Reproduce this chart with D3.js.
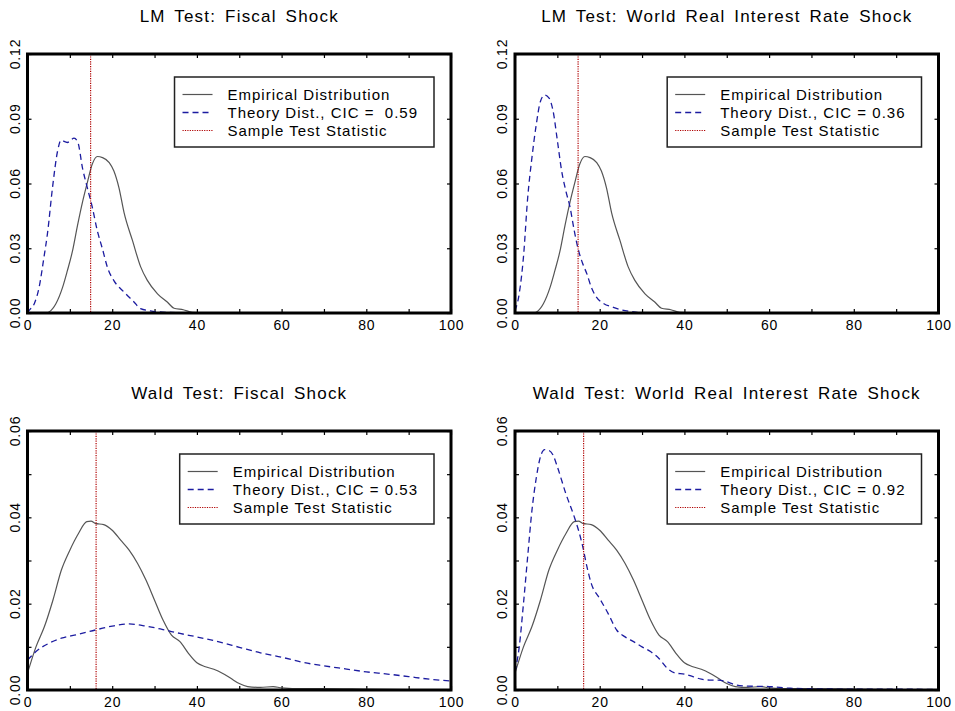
<!DOCTYPE html>
<html lang="en">
<head>
    <meta charset="UTF-8">
    <title>LM and Wald Test Distributions</title>
    <script src="https://d3js.org/d3.v7.min.js"></script>
    <style>
        body { margin: 0; background: #fff; }
        text { font-family: "Liberation Sans", Arial, sans-serif; fill: #000; }
    </style>
</head>
<body>
    <div id="chart-container"></div>

    <script>
        // panel titles
        const titles = [
            "LM Test: Fiscal Shock",
            "LM Test: World Real Interest Rate Shock",
            "Wald Test: Fiscal Shock",
            "Wald Test: World Real Interest Rate Shock"
        ];
        const cicLabels = ["Theory Dist., CIC =  0.59", "Theory Dist., CIC = 0.36",
                           "Theory Dist., CIC = 0.53", "Theory Dist., CIC = 0.92"];

        // empirical distribution of the LM statistic (same in both LM panels)
        const lmEmpX = [4.5, 5.1, 6.7, 8.3, 9.4, 10.6, 11.8, 13, 14.2, 15.3, 16.5, 17.7, 19.3, 20.4, 21.6, 22.8, 24.8, 26.7, 28.3, 30.7, 33, 34.6, 36.8, 38.9, 45];
        const lmEmpY = [0, 0.0005, 0.0043, 0.012, 0.0195, 0.0285, 0.0405, 0.0515, 0.061, 0.069, 0.0725, 0.072, 0.0697, 0.0658, 0.058, 0.0465, 0.0335, 0.0215, 0.0151, 0.0089, 0.0051, 0.0022, 0.0015, 0.0003, 0];

        // theory distribution, LM fiscal
        const lmFiscX = [0, 0.4, 1.6, 2.75, 3.9, 4.7, 5.9, 7.1, 7.9, 9.4, 11, 11.9, 13, 14, 15.3, 16.5, 17.7, 18.9, 20.4, 22.8, 25.2, 26.7, 29, 33, 40];
        const lmFiscY = [0, 0.0012, 0.0043, 0.012, 0.026, 0.0366, 0.058, 0.075, 0.080, 0.079, 0.081, 0.079, 0.067, 0.059, 0.049, 0.038, 0.0297, 0.021, 0.015, 0.0097, 0.005, 0.002, 0.001, 0.0003, 0];

        // theory distribution, LM world interest rate
        const lmWorldX = [0, 1, 2, 3, 4, 5, 6, 7, 8, 9, 10, 11, 12, 13, 14, 15, 16, 17, 18, 19, 21, 23, 25, 28, 30];
        const lmWorldY = [0.001, 0.009, 0.026, 0.0535, 0.072, 0.087, 0.098, 0.101, 0.0997, 0.0935, 0.080, 0.066, 0.0566, 0.049, 0.038, 0.029, 0.0228, 0.018, 0.012, 0.008, 0.0043, 0.0028, 0.0015, 0.0005, 0];

        // empirical distribution of the Wald statistic (same in both Wald panels)
        const waldEmpX = [0, 2, 4, 6, 8, 10, 12, 14, 15, 16, 18, 20, 22, 24, 26, 28, 30, 32, 34, 36, 38, 40, 42, 44, 46, 48, 50, 52, 55, 58, 60, 65, 70, 80, 100];
        const waldEmpY = [0.0039, 0.010, 0.0147, 0.0208, 0.0278, 0.0324, 0.0362, 0.039, 0.0391, 0.0386, 0.0383, 0.037, 0.0347, 0.0324, 0.0293, 0.0254, 0.0208, 0.0162, 0.0127, 0.0112, 0.0085, 0.0063, 0.0054, 0.0048, 0.0039, 0.0027, 0.0015, 0.0008, 0.0006, 0.0008, 0.0005, 0.0003, 0.0003, 0.0002, 0];

        // theory distribution, Wald fiscal
        const waldFiscX = [0, 2, 5, 8, 12, 16, 20, 24, 28, 32, 36, 40, 45, 50, 55, 60, 65, 70, 75, 80, 85, 90, 95, 100];
        const waldFiscY = [0.0069, 0.0089, 0.0108, 0.012, 0.0129, 0.0139, 0.0148, 0.0153, 0.0148, 0.014, 0.0131, 0.0123, 0.0112, 0.0099, 0.0086, 0.0076, 0.0064, 0.0056, 0.0049, 0.0042, 0.0037, 0.0031, 0.0025, 0.0021];

        // theory distribution, Wald world interest rate
        const waldWorldX = [0, 1, 2, 3, 4, 5, 6, 7, 8, 9, 10, 12, 14, 15, 16, 17, 18, 20, 22, 24, 26, 28, 30, 32, 34, 36, 38, 40, 42, 44, 46, 48, 50, 52, 55, 60, 65, 70, 80, 90, 100];
        const waldWorldY = [0.0042, 0.010, 0.020, 0.031, 0.0416, 0.049, 0.054, 0.0557, 0.0555, 0.0544, 0.0517, 0.0455, 0.0401, 0.037, 0.0332, 0.0285, 0.0247, 0.0212, 0.0177, 0.0139, 0.0123, 0.0112, 0.010, 0.0089, 0.0073, 0.005, 0.0039, 0.0037, 0.0031, 0.0025, 0.0023, 0.0023, 0.0019, 0.0012, 0.0009, 0.0008, 0.0004, 0.0003, 0.0002, 0.0002, 0.0001];

        // sample test statistics
        const lmStat = 14.9;
        const waldStat = 16.2;

        // axis ticks
        const xTicks = [0, 10, 20, 30, 40, 50, 60, 70, 80, 90, 100];
        const xLabels = [0, 20, 40, 60, 80, 100];
        const lmYTicks = [0, 0.03, 0.06, 0.09, 0.12];
        const lmYLabels = [0, 0.03, 0.06, 0.09, 0.12];
        const waldYTicks = [0, 0.01, 0.02, 0.03, 0.04, 0.05, 0.06];
        const waldYLabels = [0, 0.02, 0.04, 0.06];

        const zip = (xs, ys) => xs.map((x, i) => ({ x: x, y: ys[i] }));

        const panels = [
            { title: titles[0], cic: cicLabels[0], emp: zip(lmEmpX, lmEmpY), theory: zip(lmFiscX, lmFiscY), stat: lmStat, yMax: 0.12, yTicks: lmYTicks, yLabels: lmYLabels, left: 27.5, top: 54 },
            { title: titles[1], cic: cicLabels[1], emp: zip(lmEmpX, lmEmpY), theory: zip(lmWorldX, lmWorldY), stat: lmStat, yMax: 0.12, yTicks: lmYTicks, yLabels: lmYLabels, left: 515, top: 54 },
            { title: titles[2], cic: cicLabels[2], emp: zip(waldEmpX, waldEmpY), theory: zip(waldFiscX, waldFiscY), stat: waldStat, yMax: 0.06, yTicks: waldYTicks, yLabels: waldYLabels, left: 27.5, top: 431 },
            { title: titles[3], cic: cicLabels[3], emp: zip(waldEmpX, waldEmpY), theory: zip(waldWorldX, waldWorldY), stat: waldStat, yMax: 0.06, yTicks: waldYTicks, yLabels: waldYLabels, left: 515, top: 431 }
        ];

        const width = 423.5;
        const height = 259;

        const svg = d3.select("#chart-container")
            .append("svg")
            .attr("width", 955)
            .attr("height", 711);

        panels.forEach(function(p) {
            const g = svg.append("g")
                .attr("transform", "translate(" + p.left + "," + p.top + ")");

            const x = d3.scaleLinear().domain([0, 100]).range([0, width]);
            const y = d3.scaleLinear().domain([0, p.yMax]).range([height, 0]);

            const line = d3.line()
                .x(function(d) { return x(d.x); })
                .y(function(d) { return y(d.y); })
                .curve(d3.curveMonotoneX);

            // title
            g.append("text")
                .attr("x", width / 2)
                .attr("y", -38)
                .attr("dy", "0.35em")
                .attr("text-anchor", "middle")
                .style("font-size", "17px")
                .style("letter-spacing", "1.2px")
                .style("word-spacing", "3px")
                .text(p.title);

            // inward ticks on all four sides
            const fmtX = function(d) { return xLabels.includes(d) ? d : ""; };
            g.append("g")
                .attr("class", "x-axis")
                .attr("transform", "translate(0," + height + ")")
                .call(d3.axisBottom(x).tickValues(xTicks).tickSize(-4).tickPadding(7).tickFormat(fmtX));
            g.append("g")
                .call(d3.axisTop(x).tickValues(xTicks).tickSize(-4).tickFormat(""));
            g.append("g")
                .call(d3.axisLeft(y).tickValues(p.yTicks).tickSize(-4).tickFormat(""));
            g.append("g")
                .attr("transform", "translate(" + width + ",0)")
                .call(d3.axisRight(y).tickValues(p.yTicks).tickSize(-4).tickFormat(""));

            g.selectAll(".domain").remove();
            g.selectAll(".tick line").attr("stroke", "#000").attr("stroke-width", 1.2);
            g.selectAll(".x-axis text")
                .style("font-family", "'Liberation Sans', Arial, sans-serif")
                .style("font-size", "14px")
                .style("letter-spacing", "0.8px")
                .attr("fill", "#000");

            // rotated y labels
            g.selectAll(".ylab")
                .data(p.yLabels)
                .enter().append("text")
                .attr("class", "ylab")
                .attr("transform", function(d) { return "translate(-12.5," + y(d) + ") rotate(-90)"; })
                .attr("text-anchor", "middle")
                .attr("dy", "0.35em")
                .style("font-size", "14px")
                .style("letter-spacing", "0.8px")
                .text(function(d) { return d3.format(".2f")(d); });

            // curves
            g.append("path")
                .datum(p.emp)
                .attr("fill", "none")
                .attr("stroke", "#555")
                .attr("stroke-width", 1.2)
                .attr("d", line);

            g.append("path")
                .datum(p.theory)
                .attr("fill", "none")
                .attr("stroke", "#1c1ca0")
                .attr("stroke-width", 1.3)
                .attr("stroke-dasharray", "6,4")
                .attr("d", line);

            // sample statistic
            g.append("line")
                .attr("x1", x(p.stat)).attr("x2", x(p.stat))
                .attr("y1", 0).attr("y2", height)
                .attr("stroke", "#b00000")
                .attr("stroke-width", 1.2)
                .attr("stroke-dasharray", "1.2,1.2");

            // frame
            g.append("rect")
                .attr("width", width)
                .attr("height", height)
                .attr("fill", "none")
                .attr("stroke", "#000")
                .attr("stroke-width", 3);

            // legend
            const leg = g.append("g");
            const items = [
                { label: "Empirical Distribution", color: "#555", dash: null, w: 1.2 },
                { label: p.cic, color: "#1c1ca0", dash: "6,4", w: 1.3 },
                { label: "Sample Test Statistic", color: "#b00000", dash: "1.2,1.2", w: 1.2 }
            ];
            const texts = leg.selectAll("text")
                .data(items)
                .enter().append("text")
                .attr("x", 53)
                .attr("y", function(d, i) { return 17.5 + i * 18; })
                .attr("dy", "0.35em")
                .style("font-size", "15px")
                .style("letter-spacing", "1px")
                .style("white-space", "pre")
                .text(function(d) { return d.label; });
            let maxW = 0;
            texts.each(function() { maxW = Math.max(maxW, this.getComputedTextLength()); });
            leg.selectAll("line")
                .data(items)
                .enter().append("line")
                .attr("x1", 8).attr("x2", 38)
                .attr("y1", function(d, i) { return 17.5 + i * 18; })
                .attr("y2", function(d, i) { return 17.5 + i * 18; })
                .attr("stroke", function(d) { return d.color; })
                .attr("stroke-width", function(d) { return d.w; })
                .attr("stroke-dasharray", function(d) { return d.dash; });
            const boxW = maxW + 53 + 16;
            leg.insert("rect", ":first-child")
                .attr("width", boxW)
                .attr("height", 70)
                .attr("fill", "#fff")
                .attr("stroke", "#222")
                .attr("stroke-width", 1.5);
            leg.attr("transform", "translate(" + (width - 17 - boxW) + ",23)");
        });
    </script>
</body>
</html>
